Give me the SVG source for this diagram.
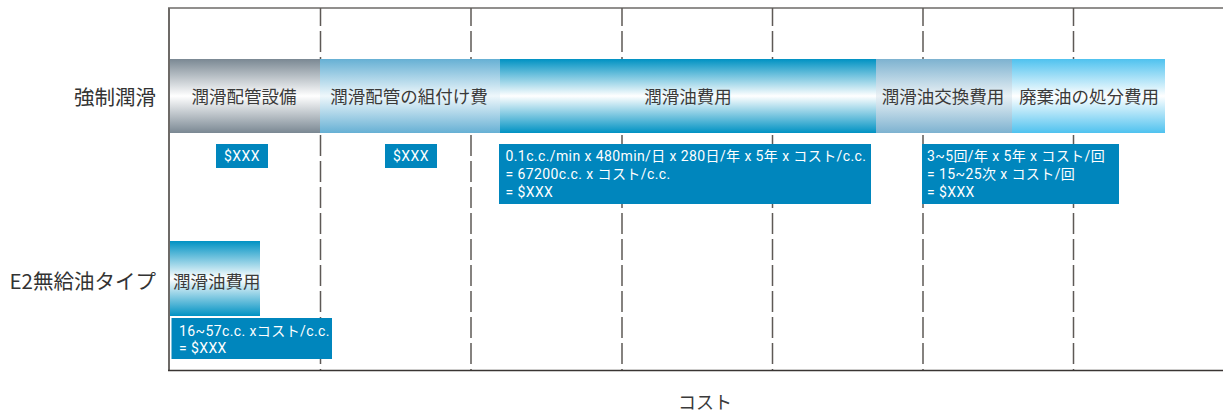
<svg xmlns="http://www.w3.org/2000/svg" width="1223" height="412" viewBox="0 0 1223 412">
<defs>
<linearGradient id="gGray" x1="0" y1="0" x2="0" y2="1">
<stop offset="0" stop-color="#7a8893"/><stop offset="0.5" stop-color="#ffffff"/><stop offset="1" stop-color="#7a8893"/>
</linearGradient>
<linearGradient id="gLight" x1="0" y1="0" x2="0" y2="1">
<stop offset="0" stop-color="#66b0d4"/><stop offset="0.5" stop-color="#eef7fb"/><stop offset="1" stop-color="#66b0d4"/>
</linearGradient>
<linearGradient id="gBlue" x1="0" y1="0" x2="0" y2="1">
<stop offset="0" stop-color="#0092c3"/><stop offset="0.5" stop-color="#ffffff"/><stop offset="1" stop-color="#0092c3"/>
</linearGradient>
<linearGradient id="gSteel" x1="0" y1="0" x2="0" y2="1">
<stop offset="0" stop-color="#7db2d0"/><stop offset="0.5" stop-color="#eaf1f5"/><stop offset="1" stop-color="#7db2d0"/>
</linearGradient>
<linearGradient id="gSky" x1="0" y1="0" x2="0" y2="1">
<stop offset="0" stop-color="#4fc2ef"/><stop offset="0.5" stop-color="#ffffff"/><stop offset="1" stop-color="#4fc2ef"/>
</linearGradient>
</defs>
<style>
.grid{stroke:#5e5956;stroke-width:1.5;stroke-dasharray:21 5;stroke-dashoffset:3;fill:none}
.lbl{font-family:"Noto Sans CJK JP","Noto Sans",sans-serif;font-size:17.5px;fill:#3a3a3a}
.ylbl{font-family:"Noto Sans CJK JP","Noto Sans",sans-serif;font-size:20.5px;fill:#333333;text-anchor:end}
.box{fill:#0086bd}
.bt{font-family:Roboto,"Noto Sans CJK JP",sans-serif;font-size:14px;letter-spacing:0.4px;fill:#ffffff}
</style>
<rect width="1223" height="412" fill="#ffffff"/>
<g id="grid">
<line x1="168" y1="8" x2="1223" y2="8" stroke="#6d6a67" stroke-width="1.5"/>
<line class="grid" x1="320.5" y1="8" x2="320.5" y2="370"/>
<line class="grid" x1="471" y1="8" x2="471" y2="370"/>
<line class="grid" x1="622" y1="8" x2="622" y2="370"/>
<line class="grid" x1="772.5" y1="8" x2="772.5" y2="370"/>
<line class="grid" x1="923" y1="8" x2="923" y2="370"/>
<line class="grid" x1="1073.5" y1="8" x2="1073.5" y2="370"/>
</g>
<g id="row1">
<g id="bar-piping"><rect x="169" y="59" width="151" height="74" fill="url(#gGray)"/><text class="lbl" x="244" y="103" text-anchor="middle">潤滑配管設備</text></g>
<g id="bar-assembly"><rect x="320" y="59" width="180" height="74" fill="url(#gLight)"/><text class="lbl" x="409" y="103" text-anchor="middle">潤滑配管の組付け費</text></g>
<g id="bar-oil"><rect x="500" y="59" width="376" height="74" fill="url(#gBlue)"/><text class="lbl" x="688" y="103" text-anchor="middle">潤滑油費用</text></g>
<g id="bar-exchange"><rect x="876" y="59" width="136" height="74" fill="url(#gSteel)"/><text class="lbl" x="943" y="103" text-anchor="middle">潤滑油交換費用</text></g>
<g id="bar-disposal"><rect x="1012" y="59" width="153" height="74" fill="url(#gSky)"/><text class="lbl" x="1089" y="103" text-anchor="middle">廃棄油の処分費用</text></g>
<g id="cost1"><rect class="box" x="216" y="144" width="52" height="24"/><text class="bt" x="242" y="161" text-anchor="middle">$XXX</text></g>
<g id="cost2"><rect class="box" x="385" y="144" width="52" height="24"/><text class="bt" x="411" y="161" text-anchor="middle">$XXX</text></g>
<g id="cost3"><rect class="box" x="499" y="144" width="372" height="60"/>
<text class="bt" x="505.5" y="161">0.1c.c./min x 480min/日 x 280日/年 x 5年 x コスト/c.c.</text>
<text class="bt" x="505.5" y="179">= 67200c.c. x コスト/c.c.</text>
<text class="bt" x="505.5" y="196.5">= $XXX</text></g>
<g id="cost4"><rect class="box" x="922" y="144" width="197" height="60"/>
<text class="bt" x="927" y="161">3~5回/年 x 5年 x コスト/回</text>
<text class="bt" x="927" y="179">= 15~25次 x コスト/回</text>
<text class="bt" x="927" y="196.5">= $XXX</text></g>
</g>
<g id="row2">
<g id="bar-e2oil"><rect x="170" y="241" width="90" height="75" fill="url(#gBlue)"/><text class="lbl" x="173" y="288">潤滑油費用</text></g>
<g id="cost5"><rect class="box" x="171.5" y="318" width="160.5" height="41"/>
<text class="bt" x="179" y="335.5">16~57c.c. xコスト/c.c.</text>
<text class="bt" x="179" y="352.5">= $XXX</text></g>
</g>
<g id="axes">
<line x1="169" y1="8" x2="169" y2="371" stroke="#6d6a67" stroke-width="2"/>
<line x1="168" y1="370.5" x2="1223" y2="370.5" stroke="#3a3533" stroke-width="1.5"/>
<text class="ylbl" x="156" y="105">強制潤滑</text>
<text class="ylbl" x="156" y="289">E2無給油タイプ</text>
<text class="lbl" x="705" y="409" text-anchor="middle" style="font-size:18px">コスト</text>
</g>
</svg>
